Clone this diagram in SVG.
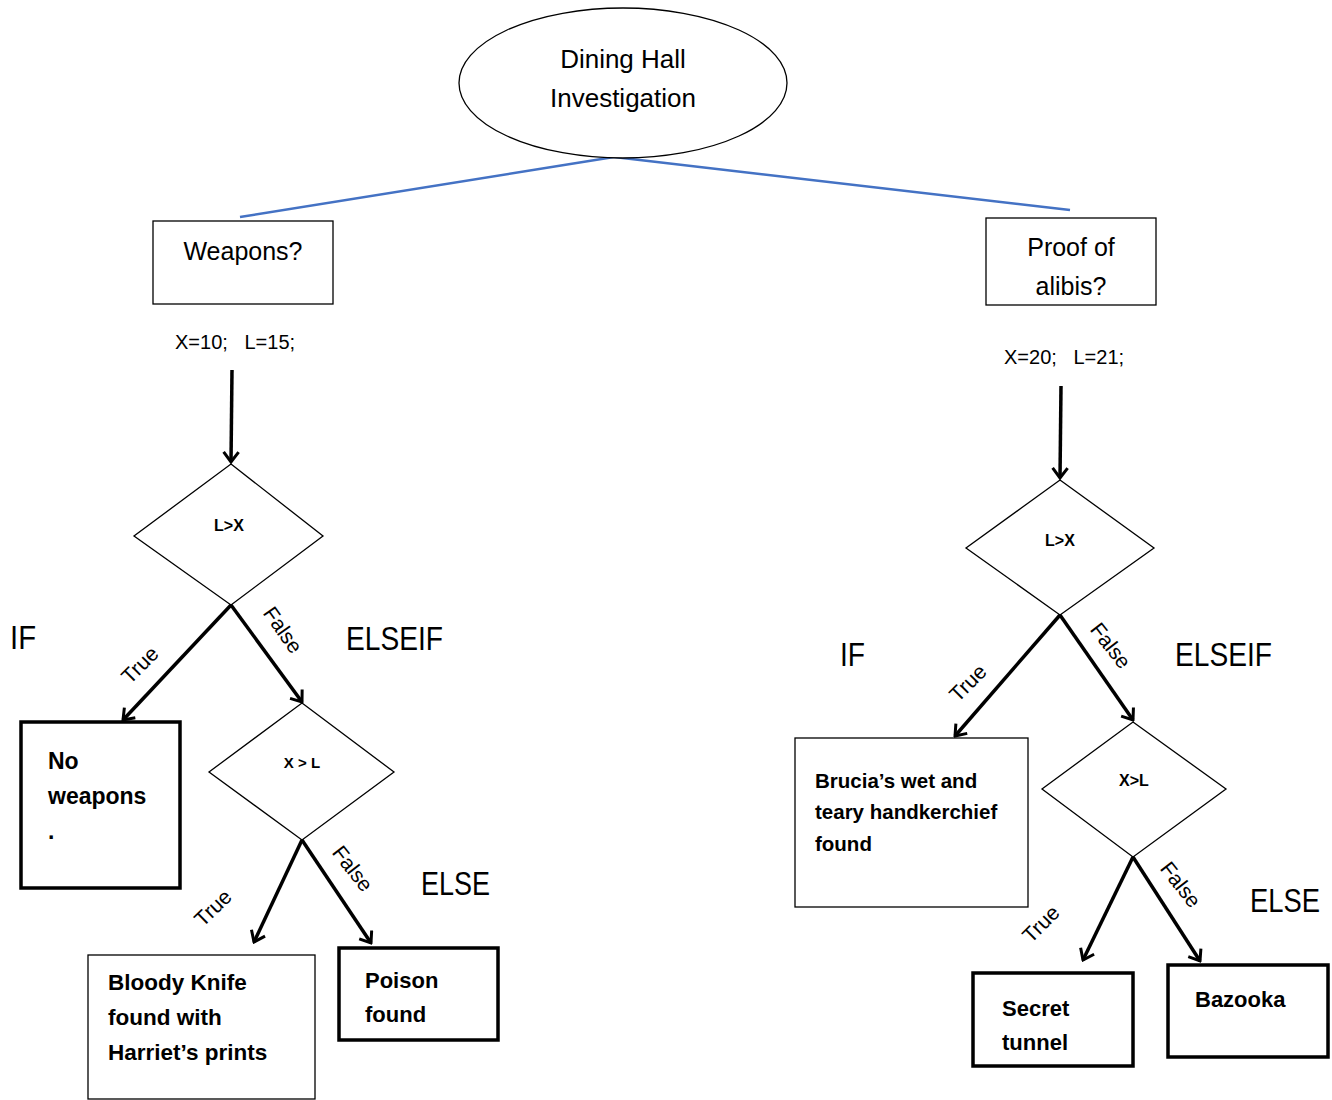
<svg xmlns="http://www.w3.org/2000/svg" width="1332" height="1100" viewBox="0 0 1332 1100">
<style>
.reg{font-family:"Liberation Sans",Arial,sans-serif;fill:#000}
.b{font-family:"Liberation Sans",Arial,sans-serif;font-weight:bold;fill:#000}
.thin{fill:#fff;stroke:#000;stroke-width:1.3}
.thick{fill:#fff;stroke:#000;stroke-width:3.5}
.arr{fill:none;stroke:#000;stroke-width:3.5;marker-end:url(#ah)}
.blue{fill:none;stroke:#4472C4;stroke-width:2.5}
.lbl{font-family:"Liberation Sans",Arial,sans-serif;font-size:21px;fill:#000;text-anchor:middle}
.big{font-family:"Liberation Sans",Arial,sans-serif;font-size:33px;fill:#000}
</style>
<defs>
<marker id="ah" viewBox="-12 -9 14 18" markerWidth="14" markerHeight="18" refX="0" refY="0" orient="auto" markerUnits="userSpaceOnUse">
<path d="M-10,-7.5 L0,0 L-10,7.5" fill="none" stroke="#000" stroke-width="3" stroke-linejoin="miter"/>
</marker>
</defs>
<rect width="1332" height="1100" fill="#fff"/>

<g id="connectors">
<line class="blue" x1="614" y1="157" x2="240" y2="217"/>
<line class="blue" x1="614" y1="157" x2="1070" y2="210"/>
<line class="arr" x1="232" y1="370" x2="231" y2="462"/>
<line class="arr" x1="1061" y1="386" x2="1060" y2="478"/>
<line class="arr" x1="231" y1="605" x2="123" y2="720"/>
<line class="arr" x1="231" y1="605" x2="302" y2="702"/>
<line class="arr" x1="302" y1="840" x2="254" y2="942"/>
<line class="arr" x1="302" y1="840" x2="371" y2="943"/>
<line class="arr" x1="1060" y1="615" x2="955" y2="736"/>
<line class="arr" x1="1060" y1="615" x2="1133" y2="720"/>
<line class="arr" x1="1133" y1="857" x2="1083" y2="960"/>
<line class="arr" x1="1133" y1="857" x2="1200" y2="961"/>
</g>

<g id="edge-labels">
<text class="lbl" transform="translate(145,670) rotate(-45)">True</text>
<text class="lbl" transform="translate(277,634) rotate(55)">False</text>
<text class="lbl" transform="translate(218,913) rotate(-44)">True</text>
<text class="lbl" transform="translate(347,873) rotate(52)">False</text>
<text class="lbl" transform="translate(973,688) rotate(-45)">True</text>
<text class="lbl" transform="translate(1105,650) rotate(52)">False</text>
<text class="lbl" transform="translate(1046,929) rotate(-45)">True</text>
<text class="lbl" transform="translate(1175,889) rotate(52)">False</text>
</g>

<g id="branch-labels">
<text class="big" x="10" y="649" textLength="26" lengthAdjust="spacingAndGlyphs">IF</text>
<text class="big" x="346" y="650" textLength="97" lengthAdjust="spacingAndGlyphs">ELSEIF</text>
<text class="big" x="421" y="895" textLength="69" lengthAdjust="spacingAndGlyphs">ELSE</text>
<text class="big" x="840" y="666" textLength="25" lengthAdjust="spacingAndGlyphs">IF</text>
<text class="big" x="1175" y="666" textLength="97" lengthAdjust="spacingAndGlyphs">ELSEIF</text>
<text class="big" x="1250" y="912" textLength="70" lengthAdjust="spacingAndGlyphs">ELSE</text>
</g>

<g id="root">
<ellipse cx="623" cy="83" rx="164" ry="75" class="thin"/>
<text class="reg" font-size="26" text-anchor="middle" x="623" y="68">Dining Hall</text>
<text class="reg" font-size="26" text-anchor="middle" x="623" y="107">Investigation</text>
</g>

<g id="weapons">
<rect x="153" y="221" width="180" height="83" class="thin"/>
<text class="reg" font-size="25" text-anchor="middle" x="243" y="260">Weapons?</text>
</g>
<g id="weapons-vars">
<text class="reg" font-size="20" x="175" y="349" xml:space="preserve">X=10;   L=15;</text>
</g>

<g id="alibis">
<rect x="986" y="218" width="170" height="87" class="thin"/>
<text class="reg" font-size="25" text-anchor="middle" x="1071" y="256">Proof of</text>
<text class="reg" font-size="25" text-anchor="middle" x="1071" y="295">alibis?</text>
</g>
<g id="alibis-vars">
<text class="reg" font-size="20" x="1004" y="364" xml:space="preserve">X=20;   L=21;</text>
</g>

<g id="left-d1">
<polygon points="231,464 323,536 231,605 134,536" class="thin"/>
<text class="b" font-size="16" text-anchor="middle" x="229" y="531">L&gt;X</text>
</g>
<g id="left-d2">
<polygon points="302,703 394,772 302,840 209,772" class="thin"/>
<text class="b" font-size="15" text-anchor="middle" x="302" y="768">X &gt; L</text>
</g>

<g id="no-weapons">
<rect x="21" y="722" width="159" height="166" class="thick"/>
<text class="b" font-size="23" x="48" y="769">No</text>
<text class="b" font-size="23" x="48" y="804">weapons</text>
<text class="b" font-size="23" x="48" y="839">.</text>
</g>

<g id="bloody-knife">
<rect x="88" y="955" width="227" height="144" class="thin"/>
<text class="b" font-size="22.5" x="108" y="990">Bloody Knife</text>
<text class="b" font-size="22.5" x="108" y="1025">found with</text>
<text class="b" font-size="22.5" x="108" y="1060">Harriet’s prints</text>
</g>

<g id="poison">
<rect x="339" y="948" width="159" height="92" class="thick"/>
<text class="b" font-size="22" x="365" y="988">Poison</text>
<text class="b" font-size="22" x="365" y="1022">found</text>
</g>

<g id="right-d1">
<polygon points="1060,480 1154,548 1060,615 966,548" class="thin"/>
<text class="b" font-size="16" text-anchor="middle" x="1060" y="546">L&gt;X</text>
</g>
<g id="right-d2">
<polygon points="1133,722 1226,789 1133,857 1042,789" class="thin"/>
<text class="b" font-size="16" text-anchor="middle" x="1134" y="786">X&gt;L</text>
</g>

<g id="handkerchief">
<rect x="795" y="738" width="233" height="169" class="thin"/>
<text class="b" font-size="20.5" x="815" y="788">Brucia’s wet and</text>
<text class="b" font-size="20.5" x="815" y="819">teary handkerchief</text>
<text class="b" font-size="20.5" x="815" y="851">found</text>
</g>

<g id="secret-tunnel">
<rect x="973" y="973" width="160" height="93" class="thick"/>
<text class="b" font-size="22" x="1002" y="1016">Secret</text>
<text class="b" font-size="22" x="1002" y="1050">tunnel</text>
</g>

<g id="bazooka">
<rect x="1168" y="965" width="160" height="92" class="thick"/>
<text class="b" font-size="22" x="1195" y="1007">Bazooka</text>
</g>
</svg>
